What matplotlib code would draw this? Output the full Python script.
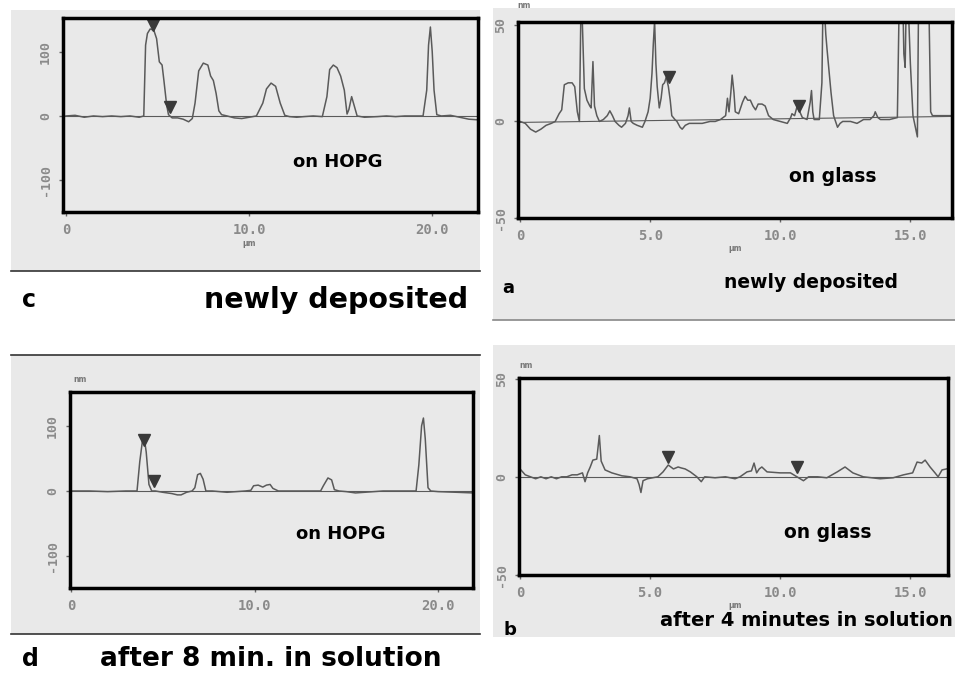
import numpy as np
import matplotlib.pyplot as plt
from matplotlib.patches import Rectangle
from matplotlib.lines import Line2D

W, H = 955, 674

# Panel c: HOPG, newly deposited (x in um, z in nm)
c_x = [0, 0.5, 1.0, 1.5, 2.0, 2.5, 3.0, 3.5, 4.0, 4.25, 4.35, 4.45, 4.6, 4.8, 4.95, 5.1, 5.25, 5.35,
       5.5, 5.6, 5.8, 6.1, 6.4, 6.7, 6.9, 7.05, 7.25, 7.5, 7.75, 7.9, 8.05, 8.2, 8.35, 8.5, 8.8,
       9.2, 9.6, 10.0, 10.4, 10.75, 10.95, 11.2, 11.45, 11.7, 11.95, 12.2, 12.6, 13.0, 13.5, 14.0,
       14.25, 14.4, 14.6, 14.8, 15.0, 15.2, 15.35, 15.45, 15.6, 15.75, 15.9, 16.3, 17.0, 17.5, 18.0,
       18.5, 19.0, 19.5, 19.7, 19.8, 19.9, 20.0, 20.1, 20.25, 20.5, 21.0, 21.5, 22.0, 22.5]
c_y = [0, 1, -2, 0, -1, 0, -1, 0, -2, 0, 110, 128, 135, 133, 120, 84, 79, 55,
       17, 2, -3, -3, -5, -9, -4, 20, 70, 82, 79, 62, 55, 35, 8, 2, 0,
       -3, -4, -2, 0, 20, 42, 51, 46, 20, 1, -1, -2, -1, 0, -1,
       30, 72, 79, 75, 62, 40, 3, 10, 30, 15, 0, -2, -1, 0, -1,
       0, 0, 0, 40, 110, 138, 100, 40, 2, 0, 1, -2, -5, -6]
c_marks_x = [4.75, 5.7]
c_marks_y = [141, 14]

# Panel a: glass, newly deposited
a_x = [0, 0.2, 0.4, 0.6, 0.8, 1.0, 1.2, 1.35, 1.5, 1.6, 1.7, 1.85, 2.0, 2.1, 2.2, 2.28, 2.35, 2.42,
       2.47, 2.57, 2.68, 2.73, 2.8, 2.86, 2.95, 3.05, 3.2, 3.35, 3.45, 3.55, 3.65, 3.8, 3.9, 4.05,
       4.15, 4.2, 4.27, 4.35, 4.5, 4.7, 4.8, 4.92, 5.0, 5.07, 5.12, 5.17, 5.22, 5.27, 5.35, 5.42,
       5.48, 5.55, 5.62, 5.7, 5.77, 5.83, 5.95, 6.03, 6.15, 6.23, 6.35, 6.5, 6.8, 7.0, 7.3, 7.5,
       7.7, 7.9, 7.97, 8.03, 8.1, 8.15, 8.22, 8.27, 8.4, 8.55, 8.65, 8.75, 8.85, 8.95, 9.05, 9.15,
       9.3, 9.42, 9.55, 9.73, 10.0, 10.27, 10.4, 10.45, 10.55, 10.65, 10.75, 10.85, 11.03, 11.15,
       11.2, 11.25, 11.3, 11.5, 11.6, 11.65, 11.75, 11.8, 11.95, 12.05, 12.2, 12.3, 12.4, 12.7,
       12.95, 13.2, 13.45, 13.6, 13.65, 13.75, 13.85, 14.2, 14.5, 14.58, 14.7, 14.75, 14.8, 14.85,
       14.92, 15.0, 15.1, 15.27, 15.32, 15.7, 15.78, 15.85, 16.2, 16.6]
a_y = [0, -1, -4, -5.5, -4, -2, -1, 0, 4, 6, 19, 20, 20, 18, 5, 0, 70, 40,
       17, 11, 8, 7, 31, 8, 3, 0, 1, 3, 5.5, 3, 0, -2, -3, -1,
       3, 7, 0, -1, -2, -3, 0, 5, 12, 25, 40, 52, 30, 18, 7, 12,
       19, 20, 23, 18, 11, 3, 1, 0, -3, -4, -2, -1, -1, -1, 0, 0,
       1, 3, 12, 5, 15, 24, 15, 5, 4, 10, 13, 11, 11, 8, 6, 9,
       9, 8, 3, 1, 0, -1, 2, 4, 3, 8, 5, 2, 1, 10,
       16, 5, 1, 1, 20, 70, 45, 37, 15, 3, -3, -1, 0, 0,
       -1, 1, 1, 3, 5, 2, 1, 1, 2, 70, 70, 35, 28, 70,
       60, 30, 3, -8, 70, 70, 5, 3, 3, 3]
a_ref_x = [0, 16.6]
a_ref_y = [-0.5, 2.6]
a_marks_x = [5.73, 10.73]
a_marks_y = [23, 8]

# Panel d: HOPG, after 8 min in solution
d_x = [0, 1, 2, 3, 3.6, 3.75, 3.9, 4.0, 4.1, 4.25, 4.4, 4.6, 5.0, 5.5, 5.8, 6.0, 6.3, 6.6, 6.75,
       6.9, 7.05, 7.2, 7.35, 7.7, 8.5, 9.0, 9.5, 9.8, 9.95, 10.2, 10.45, 10.65, 10.85, 11.0, 11.3,
       12.0, 13.0, 13.6, 13.75, 14.0, 14.2, 14.35, 14.6, 15.0, 15.5, 16.0, 17.0, 18.0, 18.8, 18.95,
       19.1, 19.2, 19.3, 19.45, 19.6, 20.0, 21.0, 21.9]
d_y = [0, 0, -1, 0, 0, 45, 78, 80, 60, 10, 0, 0, -2, -4, -6, -6, -2, 0, 5,
       25, 27, 18, 0, 0, -2, -1, 0, 1, 8, 9, 6, 9, 10, 4, 0,
       0, 0, 0, 8, 20, 17, 2, 0, -1, -3, -2, 0, 0, 0, 40,
       100, 112, 80, 5, 0, -1, -2, -3]
d_marks_x = [4.0, 4.5]
d_marks_y = [78, 15]

# Panel b: glass, after 4 minutes in solution
b_x = [0, 0.2, 0.4, 0.6, 0.8, 1.0, 1.2, 1.4, 1.6, 1.8, 2.0, 2.2, 2.4, 2.5, 2.6, 2.7, 2.8, 2.95,
       3.05, 3.12, 3.27, 3.53, 3.92, 4.23, 4.5, 4.58, 4.65, 4.73, 4.9, 5.3, 5.5, 5.7, 5.9, 6.08,
       6.2, 6.35, 6.55, 6.8, 6.97, 7.1, 7.5, 7.9, 8.27, 8.46, 8.73, 8.9, 9.0, 9.1, 9.2, 9.3, 9.5,
       10.0, 10.4, 10.65, 10.9, 11.1, 11.45, 11.8, 12.2, 12.5, 12.8, 13.2, 13.85, 14.35, 14.75,
       15.1, 15.27, 15.45, 15.58, 15.77, 15.96, 16.08, 16.23, 16.4]
b_y = [4, 1, 0, -1, 0, -1, 0, -1, 0, 0, 1, 1, 2, -2.5, 2, 5, 8.5, 9,
       21, 8, 3.5, 2, 0.5, 0, -1, -4, -8, -2, -1, 0, 2.5, 6, 4, 5,
       4.5, 4, 2.5, 0, -2.5, 0, -0.5, 0, -1, 0, 2.5, 3, 7, 2, 4, 5, 2.5,
       2, 2, 0, -2, 0, 0, -0.5, 2.5, 5, 2, 0, -1, -0.5, 1,
       2, 7.5, 7, 8.5, 5, 2, 0, 3.5, 4]
b_marks_x = [5.7, 10.65]
b_marks_y = [10, 5]

BG = '#e9e9e9'
LINE = '#5a5a5a'
TICK = '#8a8a8a'


def frac(l, t, r, b):
    return [l / W, 1 - b / H, (r - l) / W, (b - t) / H]


def fx(x):
    return x / W


def fy(y):
    return 1 - y / H


fig = plt.figure(figsize=(W / 100, H / 100), dpi=100)
fig.patch.set_facecolor('white')

# scanned panel backgrounds (behind the axes)
for l, t, r, b in [(11, 10, 480, 271), (493, 8, 955, 320), (11, 355, 480, 634), (493, 345, 955, 637)]:
    fig.patches.append(Rectangle((fx(l), fy(b)), (r - l) / W, (b - t) / H,
                                 transform=fig.transFigure, facecolor=BG, edgecolor='none', zorder=-5))
for x0, x1, y, col in [(11, 480, 271, '#333333'), (493, 955, 320, '#888888'),
                       (11, 480, 355, '#333333'), (11, 480, 634, '#333333')]:
    fig.lines.append(Line2D([fx(x0), fx(x1)], [fy(y), fy(y)], transform=fig.transFigure,
                            color=col, lw=1.2, zorder=-4))


def panel(box, xs, ys, mx, my, xlim, ylim, yticks, ytl, xticks, xtl, ref=None):
    ax = fig.add_axes(frac(*box))
    ax.set_facecolor(BG)
    if ref is None:
        ax.axhline(0, color=LINE, lw=0.8)
    else:
        ax.plot(ref[0], ref[1], color=LINE, lw=0.8)
    ax.plot(xs, ys, color=LINE, lw=1.1)
    ax.plot(mx, my, linestyle='none', marker='v', markersize=9, color='#3a3a3a')
    ax.set_xlim(*xlim)
    ax.set_ylim(*ylim)
    ax.set_yticks(yticks)
    ax.set_yticklabels(ytl, rotation=90, va='center', family='DejaVu Sans Mono',
                       fontweight='bold', fontsize=9.5, color=TICK)
    ax.set_xticks(xticks)
    ax.set_xticklabels(xtl, family='DejaVu Sans Mono', fontweight='bold', fontsize=10, color=TICK)
    ax.tick_params(axis='both', length=3, width=1, color='#666666', pad=5)
    for s in ax.spines.values():
        s.set_linewidth(2.5)
        s.set_color('black')
    return ax


ax_c = panel((63, 18, 478, 212), c_x, c_y, c_marks_x, c_marks_y, (-0.16, 22.5), (-149, 152),
             [-100, 0, 100], ['-100', '0', '100'], [0, 10, 20], ['0', '10.0', '20.0'])
ax_a = panel((518, 22, 952, 218), a_x, a_y, a_marks_x, a_marks_y, (-0.08, 16.6), (-49.5, 51.5),
             [-50, 0, 50], ['-50', '0', '50'], [0, 5, 10, 15], ['0', '5.0', '10.0', '15.0'],
             ref=(a_ref_x, a_ref_y))
ax_d = panel((70, 392, 473, 588), d_x, d_y, d_marks_x, d_marks_y, (-0.05, 21.9), (-149, 152),
             [-100, 0, 100], ['-100', '0', '100'], [0, 10, 20], ['0', '10.0', '20.0'])
ax_b = panel((519, 378, 948, 575), b_x, b_y, b_marks_x, b_marks_y, (-0.04, 16.46), (-49.7, 50.3),
             [-50, 0, 50], ['-50', '0', '50'], [0, 5, 10, 15], ['0', '5.0', '10.0', '15.0'])

# units
small = dict(fontsize=5.5, color='#777777', ha='center', va='center', fontweight='bold')
fig.text(fx(249), fy(243), 'μm', **small)
fig.text(fx(735), fy(248), 'μm', **small)
fig.text(fx(735), fy(606), 'μm', **small)
fig.text(fx(80), fy(380), 'nm', **small)
fig.text(fx(524), fy(6), 'nm', **small)
fig.text(fx(526), fy(365), 'nm', **small)

# annotations
heavy = dict(fontweight='heavy', color='black', family='DejaVu Sans')
fig.text(fx(338), fy(162), 'on HOPG', ha='center', va='center', fontsize=13, **heavy)
fig.text(fx(341), fy(534), 'on HOPG', ha='center', va='center', fontsize=13, **heavy)
fig.text(fx(833), fy(177), 'on glass', ha='center', va='center', fontsize=13.5, **heavy)
fig.text(fx(828), fy(533), 'on glass', ha='center', va='center', fontsize=13.5, **heavy)

fig.text(fx(22), fy(300), 'c', ha='left', va='center', fontsize=17, **heavy)
fig.text(fx(468), fy(300), 'newly deposited', ha='right', va='center', fontsize=20.5, **heavy)
fig.text(fx(22), fy(659), 'd', ha='left', va='center', fontsize=17, **heavy)
fig.text(fx(100), fy(659), 'after 8 min. in solution', ha='left', va='center', fontsize=19, **heavy)

fig.text(fx(502), fy(288), 'a', ha='left', va='center', fontsize=13, **heavy)
fig.text(fx(811), fy(283), 'newly deposited', ha='center', va='center', fontsize=13.5, **heavy)
fig.text(fx(503), fy(630), 'b', ha='left', va='center', fontsize=13, **heavy)
fig.text(fx(953), fy(621), 'after 4 minutes in solution', ha='right', va='center', fontsize=14, **heavy)

fig.savefig('out.png', dpi=100)
